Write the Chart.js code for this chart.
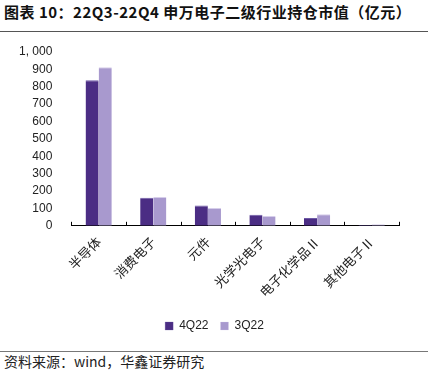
<!DOCTYPE html>
<html>
<head>
<meta charset="utf-8">
<script src="https://cdn.jsdelivr.net/npm/chart.js@4/dist/chart.umd.min.js"></script>
<style>
  html, body { margin: 0; padding: 0; background: #fff; width: 433px; height: 374px; overflow: hidden; }
  #title { position: absolute; left: 4px; top: 2px; font-family: "Noto Sans CJK SC", sans-serif; font-weight: bold; font-size: 15px; letter-spacing: 0.5px; color: #111; white-space: nowrap; line-height: 20px; }
  #line1 { position: absolute; left: 0; top: 31px; width: 428px; height: 0; border-top: 1px solid #555; }
  #wrap { position: absolute; left: 0; top: 36px; width: 433px; height: 306px; }
  #line2 { position: absolute; left: 0; top: 351px; width: 428px; height: 0; border-top: 1px solid #777; }
  #source { position: absolute; left: 4px; top: 352px; font-family: "Noto Sans CJK SC", sans-serif; font-size: 14px; color: #222; white-space: nowrap; line-height: 19px; }
</style>
</head>
<body>
<div id="title">图表 10：22Q3-22Q4 申万电子二级行业持仓市值（亿元）</div>
<div id="line1"></div>
<div id="wrap"><canvas id="c"></canvas></div>
<div id="line2"></div>
<div id="source">资料来源：wind，华鑫证券研究</div>
<script>
const categories = ["半导体", "消费电子", "元件", "光学光电子", "电子化学品Ⅱ", "其他电子Ⅱ"];
const series4Q22 = [838, 162, 117, 63, 45, 4];
const series3Q22 = [912, 166, 103, 57, 67, 9];
const seriesNames = ["4Q22", "3Q22"];
const yTicks = [0, 100, 200, 300, 400, 500, 600, 700, 800, 900, 1000];

const upTicks = {
  id: 'upTicks',
  afterLayout(chart) {
    if (chart.legend) { chart.legend.left += 15; chart.legend.right += 15; }
  },
  afterDraw(chart) {
    const x = chart.scales.x, ctx = chart.ctx;
    const bottom = chart.chartArea.bottom;
    const n = categories.length;
    const w = (x.right - x.left) / n;
    ctx.save();
    ctx.strokeStyle = '#000';
    ctx.lineWidth = 1;
    for (let i = 0; i <= n; i++) {
      const px = Math.round(x.left + i * w) + 0.5;
      ctx.beginPath();
      ctx.moveTo(px, bottom);
      ctx.lineTo(px, bottom - 4);
      ctx.stroke();
    }
    ctx.restore();
  }
};

new Chart(document.getElementById('c'), {
  type: 'bar',
  data: {
    labels: categories,
    datasets: [
      { label: seriesNames[0], data: series4Q22, backgroundColor: '#4B2D84',
        borderColor: '#6E5AA6', borderWidth: { top: 1, left: 0, right: 0, bottom: 0 }, borderSkipped: 'bottom' },
      { label: seriesNames[1], data: series3Q22, backgroundColor: '#A899CE',
        borderColor: '#D6CEEA', borderWidth: { top: 1, left: 0, right: 0, bottom: 0 }, borderSkipped: 'bottom' }
    ]
  },
  options: {
    responsive: true,
    maintainAspectRatio: false,
    animation: false,
    layout: { padding: { left: 0, right: 34, top: 16, bottom: 0 } },
    datasets: { bar: { categoryPercentage: 0.48, barPercentage: 1.0 } },
    plugins: {
      legend: {
        position: 'bottom',
        labels: {
          boxWidth: 8, boxHeight: 8, padding: 12,
          color: '#222',
          font: { family: 'Liberation Sans, Arial, sans-serif', size: 12 }
        }
      },
      tooltip: { enabled: false }
    },
    scales: {
      x: {
        grid: { display: false, drawTicks: false },
        border: { display: true, color: '#000', width: 1 },
        ticks: {
          maxRotation: 45, minRotation: 45, padding: 8,
          color: '#222',
          font: { family: 'Noto Sans CJK SC, sans-serif', size: 13 }
        }
      },
      y: {
        min: 0, max: 1000,
        afterBuildTicks(axis) { axis.ticks = yTicks.map(v => ({ value: v })); },
        afterFit(scale) { scale.paddingTop = 7; scale.paddingBottom = 7; },
        grid: { display: false, drawTicks: false },
        border: { display: false },
        ticks: {
          autoSkip: false,
          padding: 19,
          color: '#222',
          font: { family: 'Liberation Sans, Arial, sans-serif', size: 12 },
          callback: v => v >= 1000 ? Math.floor(v / 1000) + ', ' + String(v % 1000).padStart(3, '0') : String(v)
        }
      }
    }
  },
  plugins: [upTicks]
});
</script>
</body>
</html>
